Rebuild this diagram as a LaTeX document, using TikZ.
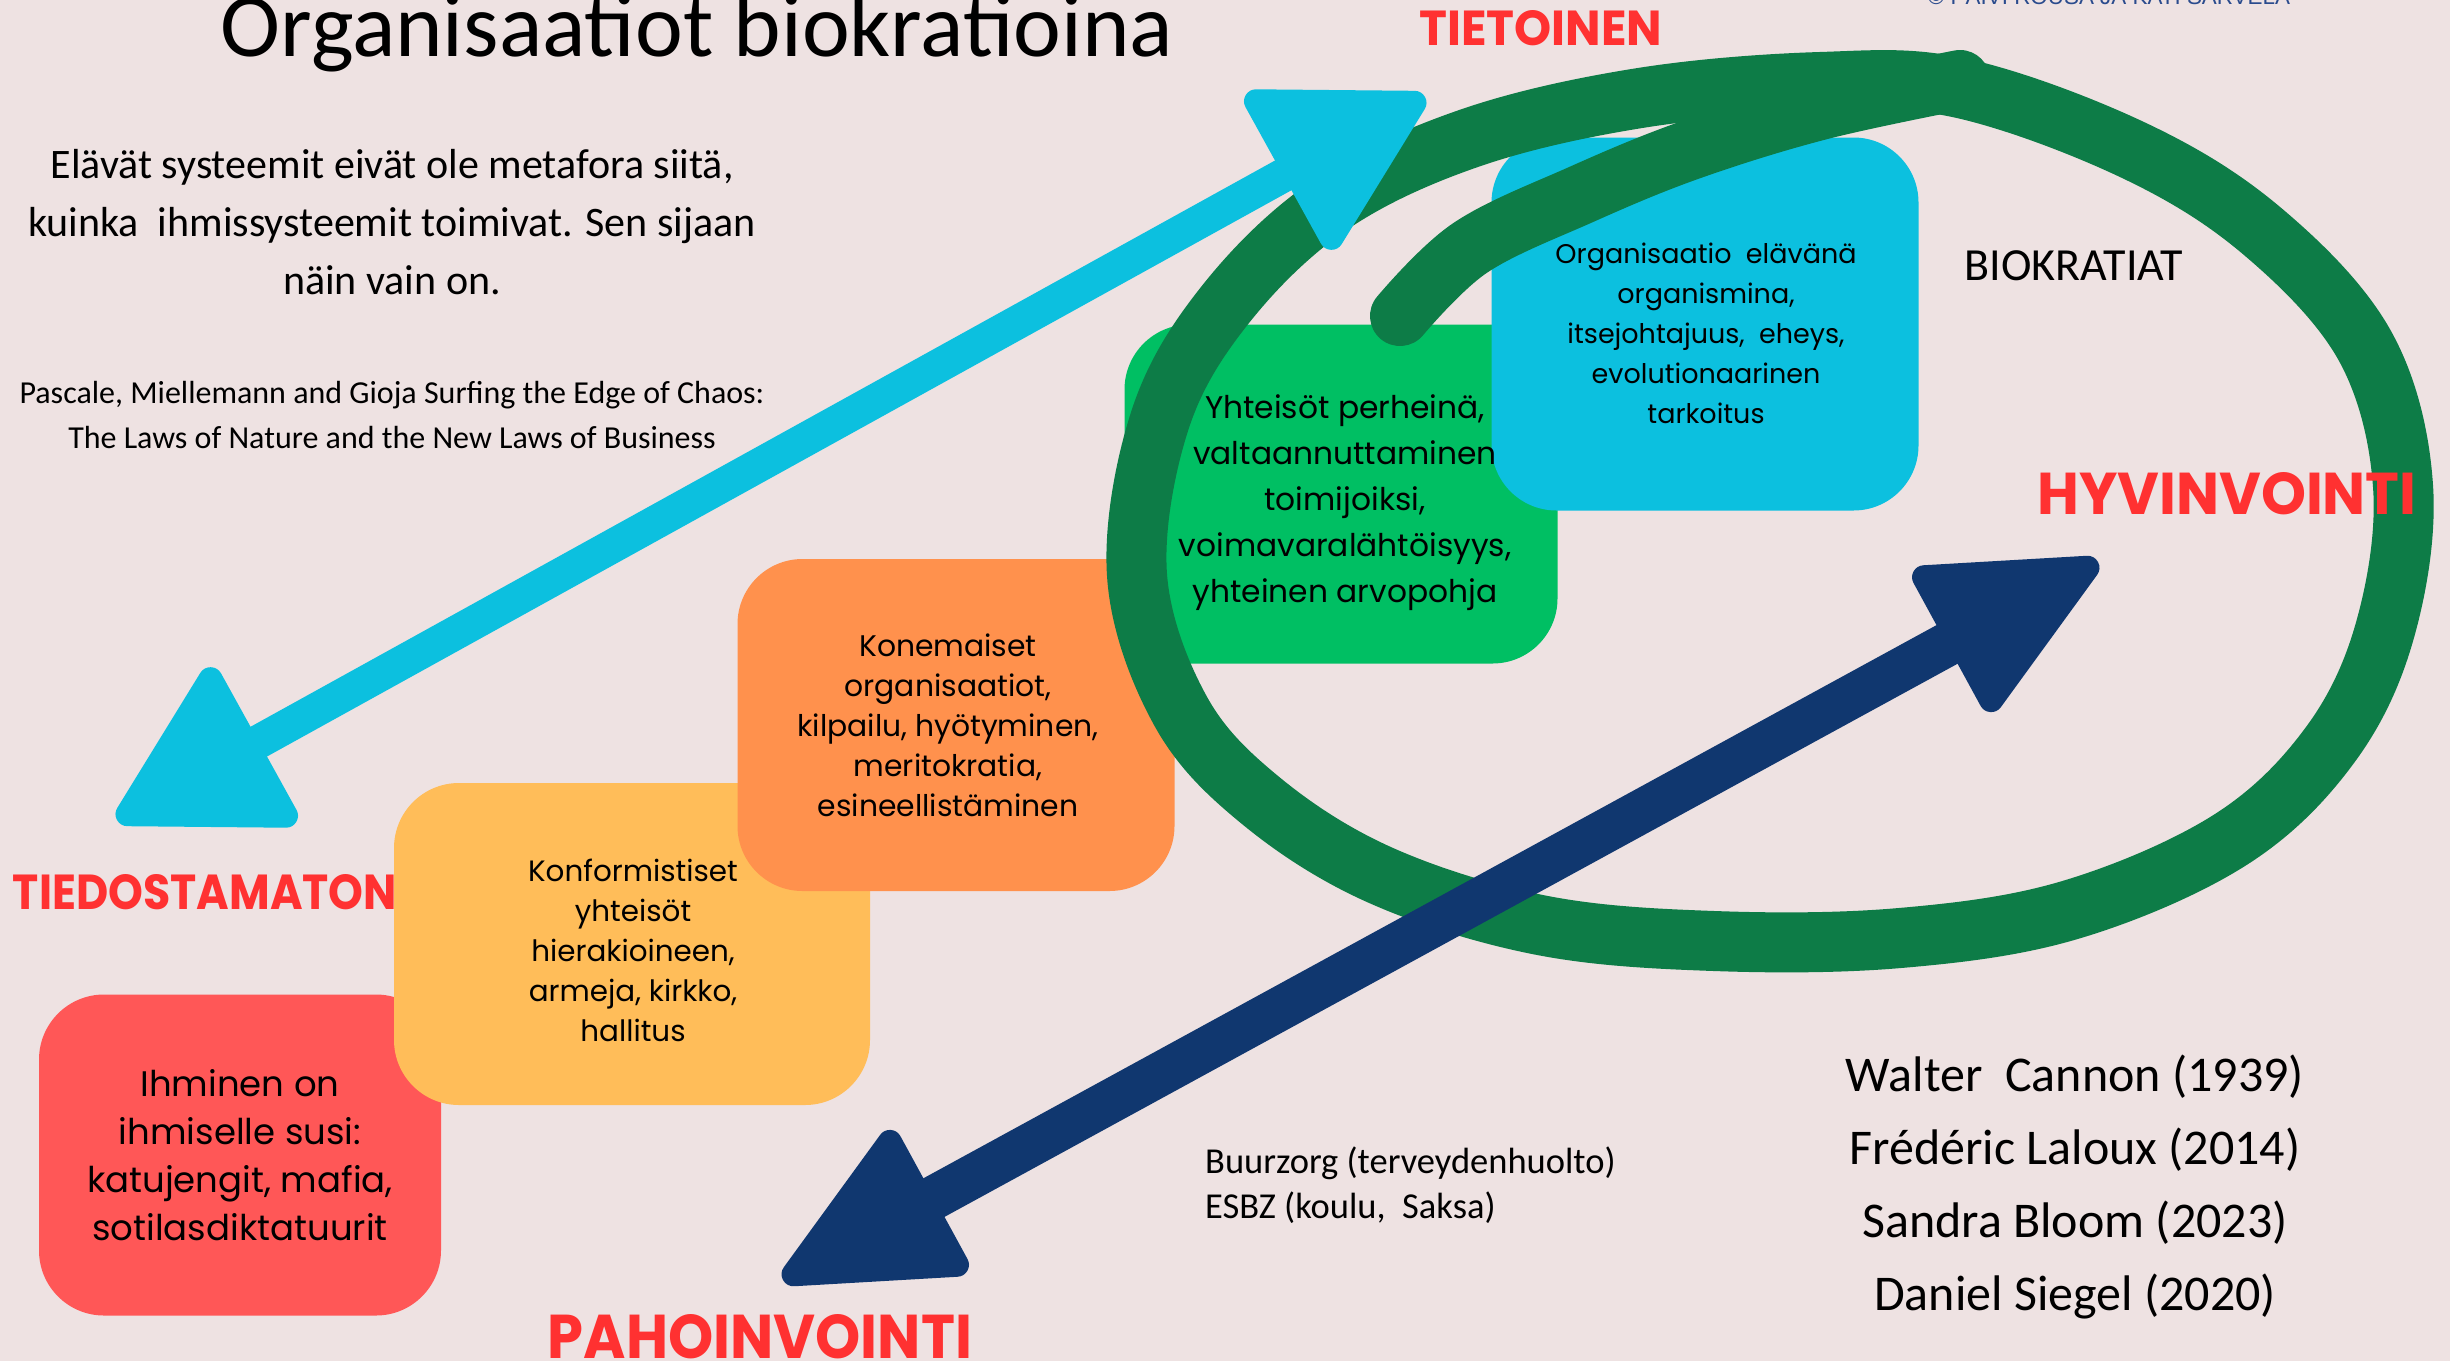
\documentclass[tikz,border=0pt]{standalone}
\usepackage{graphicx}
\usepackage{fontspec}
\setmainfont{Carlito}
\newfontfamily\pop{Poppins}
\newfontfamily\libsans{Liberation Sans}
\usetikzlibrary{calc}
\definecolor{bg}{HTML}{EEE2E2}
\definecolor{cred}{HTML}{FF5757}
\definecolor{cyellow}{HTML}{FFBD59}
\definecolor{corange}{HTML}{FF914D}
\definecolor{cgreen}{HTML}{00BF63}
\definecolor{ccyan}{HTML}{0CC0DF}
\definecolor{ringgreen}{HTML}{0D7C47}
\definecolor{navy}{HTML}{10376F}
\definecolor{lblred}{HTML}{FF3131}
\definecolor{copyblue}{HTML}{2A4B8D}
\tikzset{
  box/.style={rectangle, rounded corners=65pt, inner sep=0pt, draw=none},
  boxtext/.style={align=center, text=black, inner sep=0pt},
  lbl/.style={text=lblred, inner sep=0pt},
  ring/.style={draw=ringgreen, line width=60pt, line cap=round, line join=round},
  headshape/.style={line width=24pt, line join=round},
  plain/.style={inner sep=0pt, text=black}
}
\begin{document}
\begin{tikzpicture}[x=1pt,y=-1pt]
\fill[bg] (0,0) rectangle (2450,1361);
\useasboundingbox (0,0) rectangle (2450,1361);
\clip (0,0) rectangle (2450,1361);

% boxes
\node[box, fill=cred, minimum width=402pt, minimum height=321pt] (redbox) at (240,1155) {};
\node[box, fill=cyellow, minimum width=476pt, minimum height=322pt] (yellowbox) at (632,944) {};
\node[box, fill=corange, minimum width=437pt, minimum height=332pt] (orangebox) at (956,725) {};
\node[box, fill=cgreen, minimum width=433pt, minimum height=339pt] (greenbox) at (1341,494) {};
\node[box, fill=ccyan, minimum width=427pt, minimum height=373pt] (bluebox) at (1705,324) {};

% green loop
\draw[ring] plot[smooth cycle, tension=0.6] coordinates {
  (1137,575) (1160,420) (1225,305) (1330,205) (1470,138) (1640,98) (1820,82) (1960,88)
  (2133,150) (2262,231) (2365,346) (2403,486) (2385,630) (2330,745) (2230,840) (2070,910)
  (1900,938) (1714,941) (1540,925) (1380,875) (1260,800) (1180,710)};
\draw[ring] plot[smooth, tension=0.6] coordinates {
  (1400,316) (1470,248) (1580,195) (1690,150) (1820,110) (1960,80)};

% cyan double arrow
\coordinate (cyA) at (117,820);
\coordinate (cyB) at (1425,97);
\draw[ccyan, line width=34pt, shorten <=110pt, shorten >=110pt] (cyA) -- (cyB);
\coordinate (cyBt) at ($(cyB)!12pt!(cyA)$);
\coordinate (cyBc) at ($(cyB)!150pt!(cyA)$);
\coordinate (cyB1) at ($(cyBc)!78pt!90:(cyB)$);
\coordinate (cyB2) at ($(cyBc)!78pt!-90:(cyB)$);
\coordinate (cyAt) at ($(cyA)!12pt!(cyB)$);
\coordinate (cyAc) at ($(cyA)!150pt!(cyB)$);
\coordinate (cyA1) at ($(cyAc)!78pt!90:(cyA)$);
\coordinate (cyA2) at ($(cyAc)!78pt!-90:(cyA)$);
\filldraw[fill=ccyan, draw=ccyan, headshape] (cyBt) -- (cyB1) -- (cyB2) -- cycle;
\filldraw[fill=ccyan, draw=ccyan, headshape] (cyAt) -- (cyA1) -- (cyA2) -- cycle;

% navy double arrow
\coordinate (nvA) at (783,1280);
\coordinate (nvB) at (2098,562);
\draw[navy, line width=44pt, shorten <=120pt, shorten >=120pt] (nvA) -- (nvB);
\coordinate (nvBt) at ($(nvB)!12pt!(nvA)$);
\coordinate (nvBc) at ($(nvB)!160pt!(nvA)$);
\coordinate (nvB1) at ($(nvBc)!70pt!90:(nvB)$);
\coordinate (nvB2) at ($(nvBc)!70pt!-90:(nvB)$);
\coordinate (nvAt) at ($(nvA)!12pt!(nvB)$);
\coordinate (nvAc) at ($(nvA)!160pt!(nvB)$);
\coordinate (nvA1) at ($(nvAc)!70pt!90:(nvA)$);
\coordinate (nvA2) at ($(nvAc)!70pt!-90:(nvA)$);
\filldraw[fill=navy, draw=navy, headshape] (nvBt) -- (nvB1) -- (nvB2) -- cycle;
\filldraw[fill=navy, draw=navy, headshape] (nvAt) -- (nvA1) -- (nvA2) -- cycle;

% box texts
\node[boxtext, font=\pop\fontsize{35.5}{48}\selectfont] (redtext) at (redbox.center) {Ihminen on\\ ihmiselle susi:\\ katujengit, mafia,\\ sotilasdiktatuurit};
\node[boxtext, font=\pop\fontsize{29.4}{40}\selectfont] (yellowtext) at ($(yellowbox.center)+(1,6)$) {Konformistiset\\ yhteisöt\\ hierakioineen,\\ armeja, kirkko,\\ hallitus};
\node[boxtext, font=\pop\fontsize{29.8}{40}\selectfont] (orangetext) at ($(orangebox.center)+(-8,0)$) {Konemaiset\\ organisaatiot,\\ kilpailu, hyötyminen,\\ meritokratia,\\ esineellistäminen};
\node[boxtext, font=\pop\fontsize{31.3}{46}\selectfont] (greentext) at ($(greenbox.center)+(4,9)$) {Yhteisöt perheinä,\\ valtaannuttaminen\\ toimijoiksi,\\ voimavaralähtöisyys,\\ yhteinen arvopohja};
\node[boxtext, font=\pop\fontsize{27}{40}\selectfont] (bluetext) at ($(bluebox.center)+(1,9)$) {Organisaatio\ \ elävänä\\ organismina,\\ itsejohtajuus,\ \ eheys,\\ evolutionaarinen\\ tarkoitus};

% other texts
\node[plain, anchor=base, font=\fontsize{90.5}{100}\selectfont] (title) at (697,56) {Organisaatiot biokratioina};
\node[plain, align=center, font=\fontsize{42}{58}\selectfont] (intro) at (392,222) {Elävät systeemit eivät ole metafora siitä,\\ kuinka\ \ ihmissysteemit toimivat. Sen sijaan\\ näin vain on.};
\node[plain, align=center, font=\fontsize{32}{45}\selectfont] (cite) at (392,415) {Pascale, Miellemann and Gioja Surfing the Edge of Chaos:\\ The Laws of Nature and the New Laws of Business};
\node[plain, font=\fontsize{46}{50}\selectfont] (biok) at (2074,266) {BIOKRATIAT};
\node[plain, anchor=west, align=left, font=\fontsize{36.5}{45}\selectfont] (examples) at (1205,1185) {Buurzorg (terveydenhuolto)\\ ESBZ (koulu,\ \ Saksa)};
\node[plain, align=center, font=\fontsize{50}{73}\selectfont] (names) at (2075,1187) {Walter\ \ Cannon (1939)\\ Frédéric Laloux (2014)\\ Sandra Bloom (2023)\\ Daniel Siegel (2020)};
\node[inner sep=0pt, anchor=base, text=copyblue] (copy) at (2109,4) {\resizebox{362pt}{!}{\libsans © PÄIVI ROUSA JA KATI SARVELA}};

% red labels
\node[lbl] (tietoinen) at (1541,28) {\resizebox{243pt}{35pt}{\pop\bfseries TIETOINEN}};
\node[lbl] (hyvinvointi) at (2227,494) {\resizebox{379pt}{42pt}{\pop\bfseries HYVINVOINTI}};
\node[lbl] (tiedostamaton) at (205,892) {\resizebox{384pt}{35pt}{\pop\bfseries TIEDOSTAMATON}};
\node[lbl] (pahoinvointi) at (760,1337) {\resizebox{424pt}{44pt}{\pop\bfseries PAHOINVOINTI}};
\end{tikzpicture}
\end{document}
